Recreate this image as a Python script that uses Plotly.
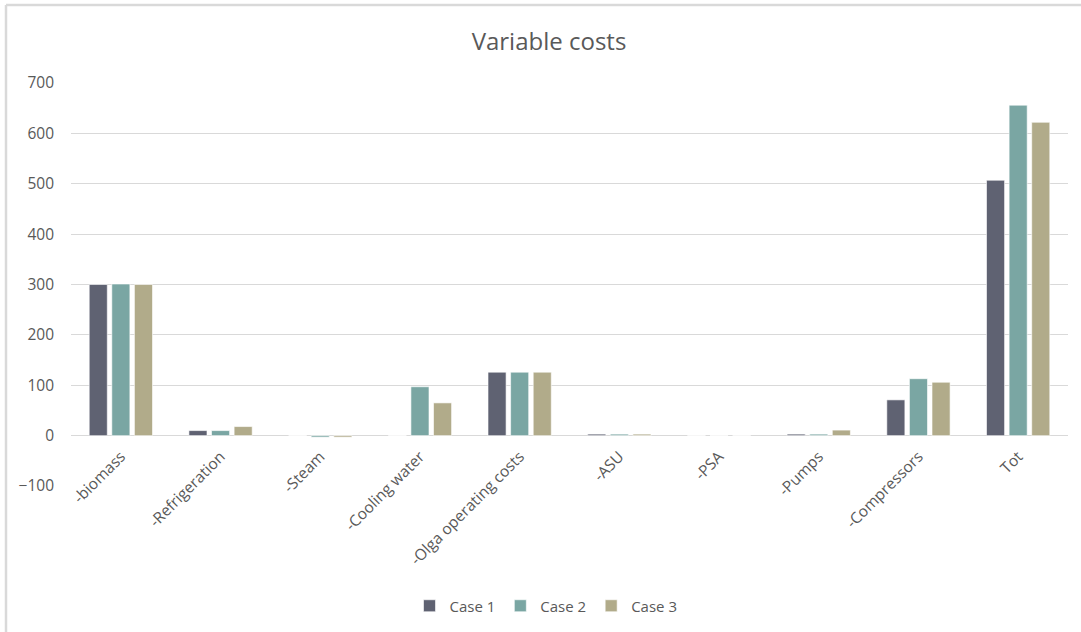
import plotly.graph_objects as go

# Cost categories and values per case
categories = ["-biomass", "-Refrigeration", "-Steam", "-Cooling water",
              "-Olga operating costs", "-ASU", "-PSA", "-Pumps",
              "-Compressors", "Tot"]
case1 = [300, 10, 0, 0, 126, 3, 0, 3, 71, 507]
case2 = [301, 10, -3, 97, 126, 3, 0, 3, 113, 656]
case3 = [300, 18, -3, 65, 126, 3, 0, 11, 106, 622]
series_names = ["Case 1", "Case 2", "Case 3"]
y_ticks = [-100, 0, 100, 200, 300, 400, 500, 600, 700]

colors = ["#5f6272", "#7aa6a3", "#b1ab8a"]
text_color = "#595959"
grid_color = "#d9d9d9"
font_family = "Open Sans"

W, H = 1081, 632
ml, mr, mt, mb = 71, 13, 83, 146
plot_w = W - ml - mr
plot_h = H - mt - mb
y_min, y_max = -100, 700

fig = go.Figure()
for name, vals, col in zip(series_names, [case1, case2, case3], colors):
    fig.add_trace(go.Bar(
        x=categories, y=vals, name=name,
        marker=dict(color=col, line=dict(color="white", width=0.6)),
    ))

# Chart frame (top and left edges visible)
def px_x(p):
    return (p - ml) / plot_w

def px_y(p):
    return (H - mb - p) / plot_h

fig.add_shape(type="line", xref="paper", yref="paper",
              x0=px_x(6), x1=px_x(W + 5), y0=px_y(5), y1=px_y(5),
              line=dict(color="#d9d9d9", width=2.5))
fig.add_shape(type="line", xref="paper", yref="paper",
              x0=px_x(6), x1=px_x(6), y0=px_y(5), y1=px_y(H + 5),
              line=dict(color="#d9d9d9", width=2.5))

zero_pos = (0 - y_min) / (y_max - y_min)

fig.update_layout(
    width=W, height=H,
    margin=dict(l=ml, r=mr, t=mt, b=mb, autoexpand=False),
    paper_bgcolor="white", plot_bgcolor="white",
    barmode="group", bargap=0.32, bargroupgap=0.2,
    font=dict(family=font_family, color=text_color, size=15),
    title=dict(text="Variable costs", xref="container", yref="container",
               x=549 / W, y=1 - 42 / H, xanchor="center", yanchor="middle",
               font=dict(family=font_family, size=24, color=text_color)),
    legend=dict(orientation="h", xref="container", yref="container",
                x=546 / W, y=1 - 606 / H, xanchor="center", yanchor="middle",
                font=dict(size=15, color=text_color),
                itemwidth=30, tracegroupgap=0),
    xaxis=dict(
        anchor="free", position=zero_pos, automargin=False,
        tickangle=-45, showgrid=False, showline=False, ticks="",
        ticklabelstandoff=8,
        tickfont=dict(size=15.5, color=text_color),
    ),
    yaxis=dict(
        range=[y_min, y_max], tickvals=y_ticks, automargin=False,
        showgrid=True, gridcolor=grid_color, gridwidth=1,
        zeroline=True, zerolinecolor=grid_color, zerolinewidth=1,
        showline=False, ticks="", ticklabelstandoff=16,
        tickfont=dict(size=15.5, color=text_color),
    ),
)

fig.write_html("out.html")
